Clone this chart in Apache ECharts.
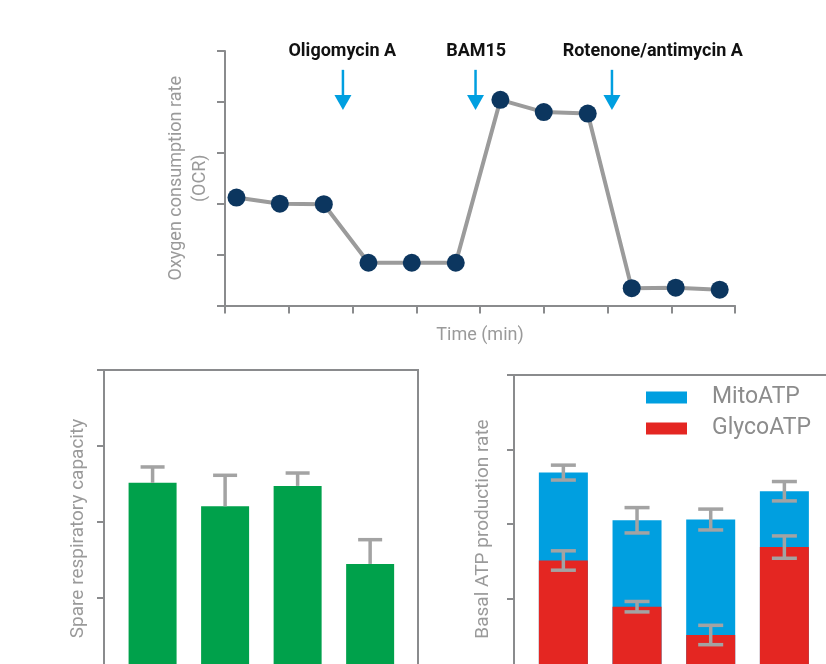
<!DOCTYPE html>
<html><head><meta charset="utf-8">
<script src="https://cdn.jsdelivr.net/npm/echarts@6/dist/echarts.min.js"></script>
<style>html,body{margin:0;padding:0;background:#fff}#c{width:826px;height:664px}</style>
</head><body><div id="c"></div><script>
// ---- Top panel: OCR trace ----
const times = [0.18, 0.86, 1.55, 2.25, 2.93, 3.62, 4.32, 5.0, 5.69, 6.38, 7.07, 7.76];
const ocr = [2.12, 2.0, 1.99, 0.84, 0.84, 0.84, 4.04, 3.80, 3.77, 0.34, 0.35, 0.31];
const injections = ['Oligomycin A', 'BAM15', 'Rotenone/antimycin A'];
const injectionX = [1.85, 3.93, 6.07];
const injectionLabelX = [1.84, 3.94, 6.71];
const arrowTop = [4.63, 4.63, 4.63];
const arrowTip = [3.84, 3.84, 3.84];
const labelY = 5;

// ---- Bottom-left: spare respiratory capacity ----
const groupPos = [1, 2, 3, 4];
const spare = [2.51, 2.20, 2.47, 1.44];
const spareErr = [0.21, 0.41, 0.17, 0.32];

// ---- Bottom-right: basal ATP production ----
const glycoATP = [1.51, 0.89, 0.51, 1.69];
const mitoATP = [1.18, 1.16, 1.55, 0.75];
const glycoErr = [0.13, 0.07, 0.13, 0.15];
const totalErr = [0.10, 0.17, 0.14, 0.13];

const AX = '#8a8b8d';
const NAMECOL = '#9a9a9a';
const BLUE = '#009fe0';
const RED = '#e42622';
const GREEN = '#00a14b';
const ERRC = '#a3a3a3';
const FONT = 'Roboto';

const chart = echarts.init(document.getElementById('c'), null, {renderer: 'canvas'});

function axisBase(extra) {
  return Object.assign({
    axisLine: {show: true, onZero: false, lineStyle: {color: AX, width: 2}},
    axisTick: {show: true, length: 8, lineStyle: {color: AX, width: 2}},
    axisLabel: {show: false},
    splitLine: {show: false}
  }, extra);
}
const nameStyle = (size, pad) => ({color: NAMECOL, fontSize: size, fontFamily: FONT, lineHeight: size + 4, padding: pad || 0});

function errRender(cap, twoSided) {
  return function (params, api) {
    const x = api.value(0), v = api.value(1), e = api.value(2);
    const hi = api.coord([x, v + e]);
    const lo = api.coord([x, twoSided ? v - e : v]);
    const st = {stroke: ERRC, lineWidth: 3.5};
    return {type: 'group', children: [
      {type: 'line', shape: {x1: hi[0], y1: hi[1], x2: lo[0], y2: lo[1]}, style: st},
      {type: 'line', shape: {x1: hi[0] - cap / 2, y1: hi[1], x2: hi[0] + cap / 2, y2: hi[1]}, style: st}
    ].concat(twoSided ? [{type: 'line', shape: {x1: lo[0] - cap / 2, y1: lo[1], x2: lo[0] + cap / 2, y2: lo[1]}, style: st}] : [])};
  };
}

const atpTotal = glycoATP.map((g, i) => g + mitoATP[i]);

const option = {
  animation: false,
  backgroundColor: '#fff',
  grid: [
    {left: 225, top: 51, width: 510, height: 254.5, outerBoundsMode: 'none', containLabel: false},
    {left: 104, top: 370, width: 314, height: 303, show: true, borderColor: AX, borderWidth: 2, backgroundColor: 'transparent', outerBoundsMode: 'none', containLabel: false},
    {left: 514, top: 375, width: 319, height: 298, show: true, borderColor: AX, borderWidth: 2, backgroundColor: 'transparent', outerBoundsMode: 'none', containLabel: false}
  ],
  legend: {
    data: ['MitoATP', 'GlycoATP'], orient: 'vertical', left: 646, top: 386,
    itemWidth: 41, itemHeight: 12, itemGap: 8, icon: 'rect', padding: 0, selectedMode: false,
    textStyle: {fontSize: 23, color: '#8c8c8c', fontFamily: FONT, lineHeight: 23, padding: [0, 0, 0, 20]}
  },
  xAxis: [
    axisBase({gridIndex: 0, type: 'value', min: 0, max: 8, interval: 1,
      name: 'Time (min)', nameLocation: 'middle', nameGap: 19, nameTextStyle: nameStyle(18)}),
    {gridIndex: 1, type: 'value', min: 0.33, max: 4.66, show: false},
    {gridIndex: 2, type: 'value', min: 0.33, max: 4.66, show: false}
  ],
  yAxis: [
    axisBase({gridIndex: 0, type: 'value', min: 0, max: 5, interval: 1,
      name: 'Oxygen consumption rate\n(OCR)', nameLocation: 'middle', nameRotate: 90, nameGap: 13,
      nameTextStyle: Object.assign(nameStyle(18), {lineHeight: 24})}),
    axisBase({gridIndex: 1, type: 'value', min: 0, max: 4, interval: 1,
      axisTick: {show: true, length: 7, lineStyle: {color: AX, width: 2}},
      name: 'Spare respiratory capacity', nameLocation: 'middle', nameRotate: 90, nameGap: 14,
      nameTextStyle: nameStyle(19, [0, 14, 0, 0])}),
    axisBase({gridIndex: 2, type: 'value', min: 0, max: 4, interval: 1,
      axisTick: {show: true, length: 7, lineStyle: {color: AX, width: 2}},
      name: 'Basal ATP production rate', nameLocation: 'middle', nameRotate: 90, nameGap: 19,
      nameTextStyle: nameStyle(19, [0, 10, 0, 0])})
  ],
  series: [
    {
      type: 'line', xAxisIndex: 0, yAxisIndex: 0,
      data: times.map((t, i) => [t, ocr[i]]),
      symbol: 'circle', symbolSize: 18,
      itemStyle: {color: '#0c365f'},
      lineStyle: {color: '#9b9b9b', width: 4},
      z: 3
    },
    {
      type: 'custom', xAxisIndex: 0, yAxisIndex: 0, clip: false,
      data: injections.map((n, i) => [injectionX[i], arrowTop[i], arrowTip[i], injectionLabelX[i]]),
      encode: {x: [0, 3], y: [1, 2]},
      renderItem: function (params, api) {
        const i = params.dataIndex;
        const top = api.coord([api.value(0), api.value(1)]);
        const tip = api.coord([api.value(0), api.value(2)]);
        const lab = api.coord([api.value(3), labelY]);
        return {type: 'group', children: [
          {type: 'line', shape: {x1: top[0], y1: top[1], x2: tip[0], y2: tip[1] - 10}, style: {stroke: BLUE, lineWidth: 2.5}},
          {type: 'polygon', shape: {points: [[tip[0], tip[1]], [tip[0] - 8.5, tip[1] - 15], [tip[0] + 8.5, tip[1] - 15]]}, style: {fill: BLUE}},
          {type: 'text', x: lab[0], y: lab[1], style: {text: injections[i], fill: '#111', fontSize: 18, fontWeight: 'bold', fontFamily: FONT, align: 'center', verticalAlign: 'middle'}}
        ]};
      }
    },
    {
      type: 'bar', xAxisIndex: 1, yAxisIndex: 1, barWidth: 48,
      data: groupPos.map((p, i) => [p, spare[i]]),
      itemStyle: {color: GREEN}
    },
    {
      type: 'custom', xAxisIndex: 1, yAxisIndex: 1, z: 4,
      data: groupPos.map((p, i) => [p, spare[i], spareErr[i]]),
      renderItem: errRender(24, false)
    },
    {
      // MitoATP drawn from 0 to the total height, GlycoATP drawn in front of it
      name: 'MitoATP', type: 'bar', xAxisIndex: 2, yAxisIndex: 2, barWidth: 49, barGap: '-100%',
      data: groupPos.map((p, i) => [p, atpTotal[i]]),
      itemStyle: {color: BLUE}
    },
    {
      name: 'GlycoATP', type: 'bar', xAxisIndex: 2, yAxisIndex: 2, barWidth: 49, barGap: '-100%',
      data: groupPos.map((p, i) => [p, glycoATP[i]]),
      itemStyle: {color: RED}
    },
    {
      type: 'custom', xAxisIndex: 2, yAxisIndex: 2, z: 4,
      data: groupPos.map((p, i) => [p, glycoATP[i], glycoErr[i]]),
      renderItem: errRender(25, true)
    },
    {
      type: 'custom', xAxisIndex: 2, yAxisIndex: 2, z: 4,
      data: groupPos.map((p, i) => [p, atpTotal[i], totalErr[i]]),
      renderItem: errRender(25, true)
    }
  ]
};
chart.setOption(option);
</script></body></html>
